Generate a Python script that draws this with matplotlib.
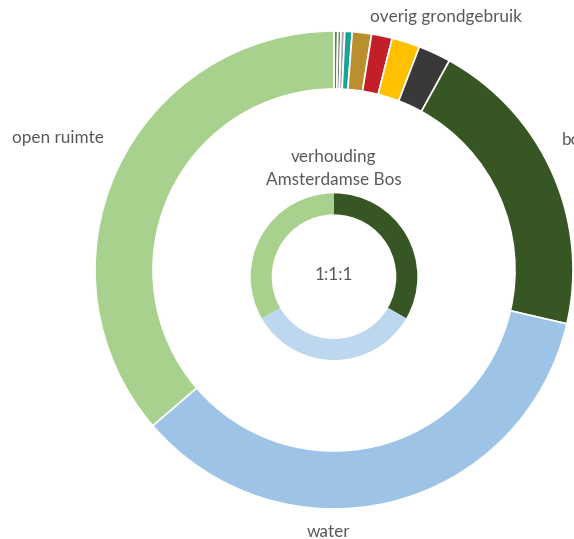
import numpy as np
import matplotlib
matplotlib.use("Agg")
import matplotlib.pyplot as plt

plt.rcParams['font.family'] = ['Lato', 'DejaVu Sans']

# outer ring: clockwise from 12 o'clock (percentages)
outer_names = ['overig 1', 'overig 2', 'overig 3', 'overig 4', 'overig 5',
               'overig 6', 'overig 7', 'overig 8', 'bos', 'water', 'open ruimte']
outer_values = [0.25, 0.22, 0.25, 0.50, 1.30, 1.40, 1.90, 2.20, 20.6, 35.1, 36.3]
outer_colors = ['#548235', '#7F7F7F', '#A5A5A5', '#17A398', '#BA8F2E',
                '#C31F28', '#FFC000', '#3B3838', '#375623', '#9DC3E6', '#A9D18E']

# inner ring: ratio Amsterdamse Bos
inner_names = ['bos', 'water', 'open ruimte']
inner_values = [1, 1, 1]
inner_colors = ['#375623', '#BDD7EE', '#A9D18E']

W, H = 574, 539
fig = plt.figure(figsize=(W / 100, H / 100), dpi=100)

cx, cy, R = 334, 270, 239
ax = fig.add_axes([(cx - R) / W, (H - cy - R) / H, 2 * R / W, 2 * R / H])

ax.pie(outer_values, colors=outer_colors, startangle=90, counterclock=False,
       radius=1.0, wedgeprops=dict(width=58 / R, edgecolor='white', linewidth=1.2))

ax.pie(inner_values, colors=inner_colors, startangle=90, counterclock=False,
       radius=83.3 / R, center=(0, -6.7 / R),
       wedgeprops=dict(width=21 / R, edgecolor='none'))

ax.set_xlim(-1, 1)
ax.set_ylim(-1, 1)
ax.set_axis_off()

txt = '#595959'
fs = 12.3


def px(x, y):
    return x / W, 1 - y / H


fig.text(*px(446, 17), 'overig grondgebruik', color=txt, fontsize=fs, ha='center', va='center')
fig.text(*px(562, 140), 'bos', color=txt, fontsize=fs, ha='left', va='center')
fig.text(*px(328, 532), 'water', color=txt, fontsize=fs, ha='center', va='center')
fig.text(*px(58, 138), 'open ruimte', color=txt, fontsize=fs, ha='center', va='center')
fig.text(*px(334, 157), 'verhouding', color=txt, fontsize=fs, ha='center', va='center')
fig.text(*px(334, 180), 'Amsterdamse Bos', color=txt, fontsize=fs, ha='center', va='center')
fig.text(*px(334, 275), '1:1:1', color=txt, fontsize=fs, ha='center', va='center')

fig.savefig('out.png', dpi=100)
